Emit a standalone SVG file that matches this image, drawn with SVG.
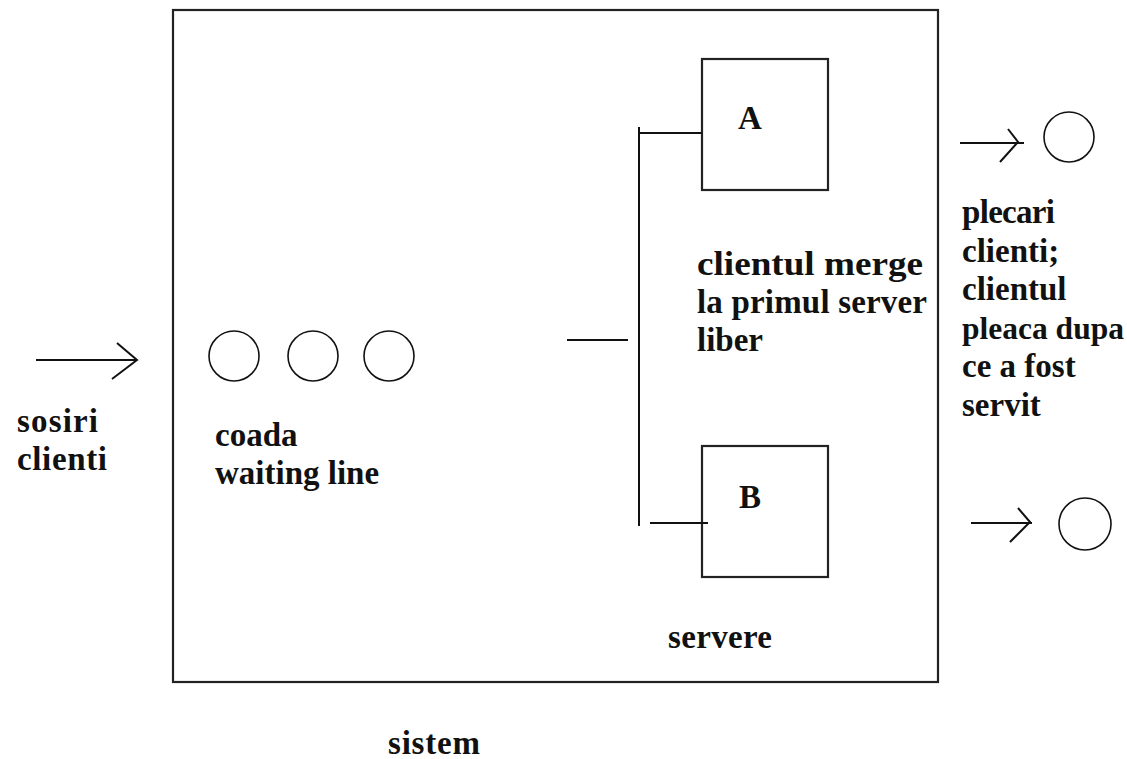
<svg xmlns="http://www.w3.org/2000/svg" width="1127" height="759" viewBox="0 0 1127 759">
<style>
.ln{stroke:#111;stroke-width:2;fill:none}
.box{stroke:#222;stroke-width:2.2;fill:#fff}
.cl{stroke:#111;stroke-width:1.6;fill:none}
.t{font-family:"Liberation Serif","Times New Roman",serif;font-weight:bold;font-size:33px;fill:#111}
</style>
<rect width="1127" height="759" fill="#fff"/>
<g id="sistem">
<rect class="box" x="173" y="10" width="765" height="672"/>
<text class="t" x="388" y="754" textLength="92">sistem</text>
</g>
<g id="queue">
<circle class="cl" cx="234" cy="356" r="25"/>
<circle class="cl" cx="313" cy="356" r="25"/>
<circle class="cl" cx="389" cy="356" r="25"/>
<text class="t" x="215" y="446">coada</text>
<text class="t" x="215" y="484">waiting line</text>
</g>
<g id="serverA">
<rect class="box" x="702" y="59" width="126" height="131"/>
<text class="t" x="750" y="129" text-anchor="middle">A</text>
</g>
<g id="serverB">
<rect class="box" x="702" y="446" width="126" height="131"/>
<text class="t" x="750" y="508" text-anchor="middle">B</text>
</g>
<g id="departA">
<circle class="cl" cx="1069" cy="137" r="25"/>
</g>
<g id="departB">
<circle class="cl" cx="1085" cy="524" r="26"/>
</g>
<g id="labels">
<text class="t" x="17" y="432" textLength="81">sosiri</text>
<text class="t" x="17" y="470" textLength="90">clienti</text>
<text class="t" x="697" y="275" textLength="226" lengthAdjust="spacingAndGlyphs">clientul merge</text>
<text class="t" x="697" y="313" textLength="230">la primul server</text>
<text class="t" x="697" y="351">liber</text>
<text class="t" x="962" y="223" textLength="93">plecari</text>
<text class="t" x="962" y="262">clienti;</text>
<text class="t" x="962" y="300">clientul</text>
<text class="t" x="962" y="339" style="font-size:31.5px">pleaca dupa</text>
<text class="t" x="962" y="377">ce a fost</text>
<text class="t" x="962" y="416">servit</text>
<text class="t" x="668" y="648" textLength="104">servere</text>
</g>
<g id="connectors">
<path class="ln" d="M36 360H137M117 343L137 360L112 379"/>
<path class="ln" d="M567 340H628"/>
<path class="ln" d="M639 127V526"/>
<path class="ln" d="M639 133H702"/>
<path class="ln" d="M650 523H708"/>
<path class="ln" d="M960 143H1024M1008 129L1018 142L1000 162"/>
<path class="ln" d="M971 523H1032M1018 508L1030 522L1010 542"/>
</g>
</svg>
